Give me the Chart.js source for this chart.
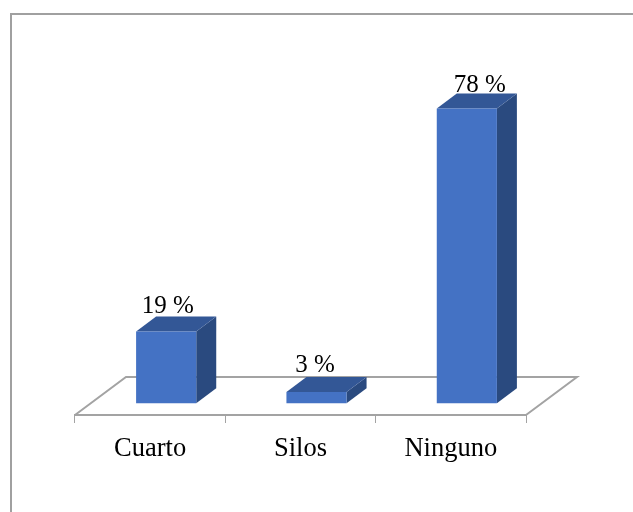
<!DOCTYPE html>
<html>
<head>
<meta charset="utf-8">
<style>
  html, body { margin: 0; padding: 0; background: #fff; }
  canvas { display: block; }
</style>
<script src="https://cdn.jsdelivr.net/npm/chart.js@4"></script>
</head>
<body>
<canvas id="grafico" width="633" height="512"></canvas>
<script>
const categorias = ['Cuarto', 'Silos', 'Ninguno'];
const porcentajes = [19, 3, 78];

const FUENTE = '"Liberation Serif", "Times New Roman", serif';
const GRIS = '#a3a3a3';

// profundidad del suelo y de las barras, y corrimiento de las barras sobre el suelo
const suelo = { dx: 51, dy: 38 };
const caja = { dx: 20, dy: 15 };
const corrimientoBarra = 16;
// ajuste a mano de cada etiqueta respecto a su barra
const ajusteEtiqueta = [[17.5, -18], [14.5, -20], [29, -17]];

const efecto3d = {
    id: 'efecto3d',
    beforeDraw(chart) {
        // el marco solo se ve arriba y a la izquierda
        const c = chart.ctx;
        c.save();
        c.strokeStyle = '#a0a0a0';
        c.lineWidth = 2;
        c.beginPath();
        c.moveTo(11, 512);
        c.lineTo(11, 14);
        c.lineTo(633, 14);
        c.stroke();
        c.restore();
    },
    beforeDatasetsDraw(chart) {
        const c = chart.ctx;
        const a = chart.chartArea;
        c.save();
        c.strokeStyle = GRIS;
        c.lineWidth = 2;
        c.beginPath();
        c.moveTo(a.left, a.bottom);
        c.lineTo(a.left + suelo.dx, a.bottom - suelo.dy);
        c.lineTo(a.right + suelo.dx, a.bottom - suelo.dy);
        c.lineTo(a.right, a.bottom);
        c.stroke();
        c.restore();

        // caras lateral y superior de cada barra
        c.save();
        c.translate(corrimientoBarra, 0);
        chart.getDatasetMeta(0).data.forEach(function (b) {
            const izq = b.x - b.width / 2;
            const der = b.x + b.width / 2;
            c.fillStyle = '#2a4a7f';
            c.beginPath();
            c.moveTo(der, b.y);
            c.lineTo(der + caja.dx, b.y - caja.dy);
            c.lineTo(der + caja.dx, b.base - caja.dy);
            c.lineTo(der, b.base);
            c.closePath();
            c.fill();
            c.fillStyle = '#335796';
            c.beginPath();
            c.moveTo(izq, b.y);
            c.lineTo(izq + caja.dx, b.y - caja.dy);
            c.lineTo(der + caja.dx, b.y - caja.dy);
            c.lineTo(der, b.y);
            c.closePath();
            c.fill();
        });
    },
    afterDatasetsDraw(chart) {
        const c = chart.ctx;
        c.restore();
        c.save();
        c.fillStyle = '#000';
        c.font = '25px ' + FUENTE;
        c.textAlign = 'center';
        c.textBaseline = 'alphabetic';
        chart.getDatasetMeta(0).data.forEach(function (b, i) {
            c.fillText(porcentajes[i] + ' %', b.x + ajusteEtiqueta[i][0], b.y + ajusteEtiqueta[i][1]);
        });
        c.restore();
    }
};

new Chart(document.getElementById('grafico'), {
    type: 'bar',
    data: {
        labels: categorias,
        datasets: [{
            data: porcentajes,
            backgroundColor: '#4472c4',
            borderWidth: 0,
            categoryPercentage: 1,
            barPercentage: 0.4
        }]
    },
    options: {
        responsive: false,
        animation: false,
        layout: { padding: { left: 75, right: 107, top: 101, bottom: 0 } },
        plugins: {
            legend: { display: false },
            tooltip: { enabled: false }
        },
        scales: {
            x: {
                afterFit(escala) { escala.height = 97; },
                border: { color: GRIS, width: 2 },
                grid: { drawOnChartArea: false, drawTicks: true, tickLength: 8, color: GRIS, tickWidth: 1 },
                ticks: {
                    color: '#000',
                    padding: 10,
                    maxRotation: 0,
                    autoSkip: false,
                    font: { family: FUENTE, size: 26.5 }
                }
            },
            y: {
                display: false,
                min: -3.1,
                max: 80
            }
        }
    },
    plugins: [efecto3d]
});
</script>
</body>
</html>
